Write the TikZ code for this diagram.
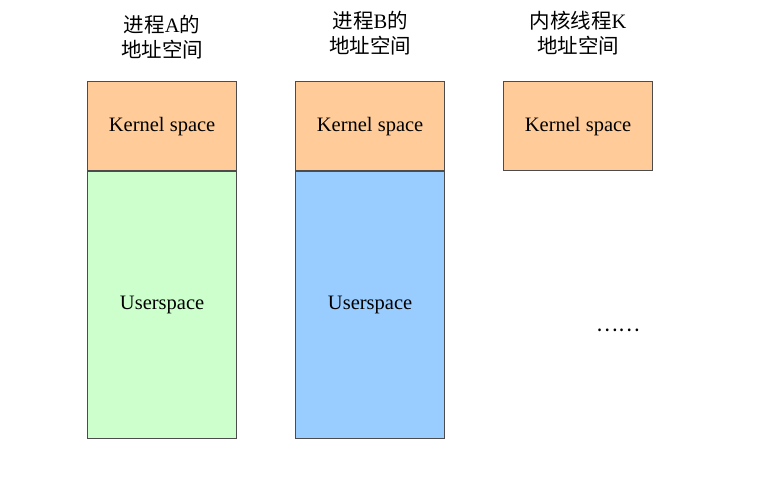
\documentclass[tikz,border=0pt]{standalone}
\usepackage{fontspec}
\setmainfont{Liberation Serif}
\newfontfamily\cjk{Noto Sans CJK SC}
\usetikzlibrary{positioning}
\definecolor{kernelorange}{HTML}{FFCC99}
\definecolor{usergreen}{HTML}{CCFFCC}
\definecolor{userblue}{HTML}{99CCFF}

\begin{document}
\begin{tikzpicture}[x=1pt,y=-1pt,
    font=\fontsize{20.5}{25}\selectfont,
    space/.style={draw=black!70, line width=1.2pt, minimum width=149pt, inner sep=0pt},
    kernel/.style={space, fill=kernelorange, minimum height=89pt},
    user/.style={space, minimum height=267pt},
    title/.style={align=center, inner sep=0pt}]
  \useasboundingbox (0,0) rectangle (763,481);
  % process A
  \node[kernel, anchor=north west] (kernA) at (87,81) {Kernel space};
  \node[user, fill=usergreen, below=0pt of kernA] (userA) {Userspace};
  \node[title, above=22pt of kernA] (labA) {{\cjk 进程}A{\cjk 的}\\{\cjk 地址空间}};
  % process B
  \node[kernel, anchor=north west] (kernB) at (295,81) {Kernel space};
  \node[user, fill=userblue, below=0pt of kernB] (userB) {Userspace};
  \node[title, above=26pt of kernB] (labB) {{\cjk 进程}B{\cjk 的}\\{\cjk 地址空间}};
  % kernel thread K
  \node[kernel, anchor=north west] (kernK) at (503,81) {Kernel space};
  \node[title, above=26pt of kernK] (labK) {{\cjk 内核线程}K\\{\cjk 地址空间}};
  \node (dots) at (618,330) {\cjk ……};
\end{tikzpicture}
\end{document}
